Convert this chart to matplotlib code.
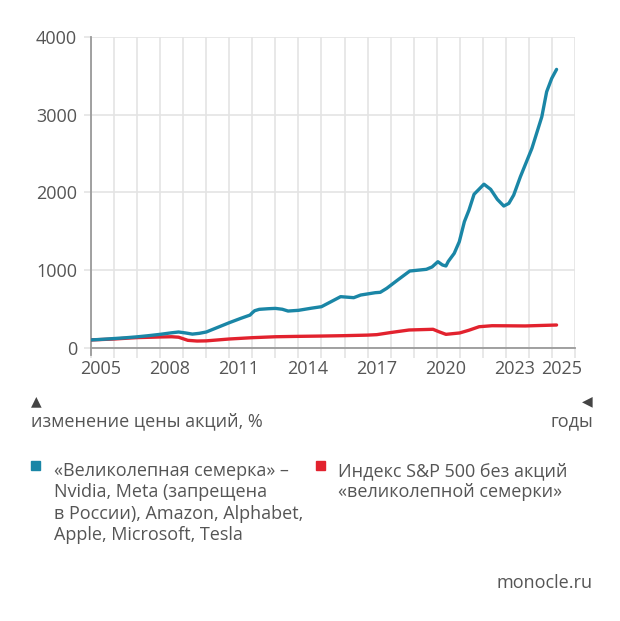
import matplotlib.pyplot as plt
from matplotlib.ticker import FixedLocator

plt.rcParams['font.family'] = ['Open Sans', 'DejaVu Sans']

# "Великолепная семерка" (x in years)
mag7_years = [2005.0, 2005.5, 2006.0, 2006.5, 2007.0, 2007.5, 2008.0, 2008.5, 2008.8,
              2009.1, 2009.4, 2009.7, 2010.0, 2010.5, 2011.0, 2011.5, 2011.9, 2012.0,
              2012.1, 2012.3, 2012.7, 2013.0, 2013.3, 2013.55, 2014.0, 2014.55, 2015.0,
              2015.4, 2015.83, 2016.4, 2016.7, 2017.33, 2017.55, 2017.83, 2018.3, 2018.83,
              2019.55, 2019.8, 2020.05, 2020.25, 2020.4, 2020.5, 2020.76, 2020.98, 2021.2,
              2021.4, 2021.62, 2022.05, 2022.34, 2022.63, 2022.91, 2023.13, 2023.34,
              2023.63, 2024.13, 2024.56, 2024.77, 2024.99, 2025.2]
mag7_values = [100, 108, 118, 128, 140, 155, 172, 192, 202,
               190, 175, 185, 202, 262, 322, 378, 420, 450,
               476, 494, 502, 506, 495, 472, 481, 508, 528,
               590, 657, 644, 678, 708, 713, 764, 870, 987,
               1009, 1040, 1107, 1065, 1052, 1110, 1215, 1365, 1622,
               1772, 1975, 2105, 2039, 1910, 1824, 1858, 1965,
               2201, 2566, 2973, 3295, 3467, 3583]

# S&P 500 без акций семерки
sp_years = [2005.0, 2006.0, 2007.0, 2008.0, 2008.5, 2008.8, 2009.2, 2009.6, 2010.0,
            2010.5, 2011.0, 2012.0, 2013.0, 2014.0, 2015.0, 2016.0, 2017.0, 2017.4,
            2018.0, 2018.8, 2019.84, 2020.1, 2020.4, 2021.0, 2021.4, 2021.84, 2022.4,
            2023.0, 2023.84, 2024.5, 2025.2]
sp_values = [100, 112, 130, 138, 141, 135, 95, 86, 88,
             100, 112, 129, 141, 146, 150, 155, 162, 168,
             195, 228, 237, 205, 172, 190, 225, 270, 283,
             282, 280, 286, 292]

label_years = [2005, 2008, 2011, 2014, 2017, 2020, 2023, 2025]
y_ticks = [0, 1000, 2000, 3000, 4000]

blue = '#1a86a6'
red = '#e2222e'
text_gray = '#555555'
grid_gray = '#e4e4e4'
axis_gray = '#9a9a9a'
fs = 13

fig = plt.figure(figsize=(6.2, 6.21), dpi=100)
ax = fig.add_axes([91 / 620, 1 - 347.7 / 621, (575 - 91) / 620, (347.7 - 37) / 621])

ax.plot(sp_years, sp_values, color=red, lw=2.4, solid_capstyle='round', zorder=3)
ax.plot(mag7_years, mag7_values, color=blue, lw=2.4, solid_capstyle='round', zorder=4)

ax.set_xlim(2005, 2026)
ax.set_ylim(0, 4000)

# gridlines every year, labels slightly to the right of the lines
ax.xaxis.set_minor_locator(FixedLocator(range(2005, 2027)))
ax.set_xticks([y + 0.4 for y in label_years])
ax.set_xticklabels([str(y) for y in label_years])
ax.tick_params(axis='x', which='major', length=0, pad=9, labelsize=fs, labelcolor=text_gray)
ax.tick_params(axis='x', which='minor', length=7, width=1.2, color=grid_gray)
ax.set_yticks(y_ticks)
ax.tick_params(axis='y', length=5, width=1.2, color=grid_gray, pad=5, labelsize=fs,
               labelcolor=text_gray)

ax.grid(True, axis='x', which='minor', color=grid_gray, lw=1.2)
ax.grid(True, axis='y', which='major', color=grid_gray, lw=1.2)

for s in ['top', 'right']:
    ax.spines[s].set_visible(False)
ax.spines['left'].set_color(axis_gray)
ax.spines['bottom'].set_color(axis_gray)
ax.spines['left'].set_linewidth(1.3)
ax.spines['bottom'].set_linewidth(1.3)
ax.spines['left'].set_bounds(-100, 4000)
ax.set_axisbelow(True)


def px(x, y):
    return x / 620, 1 - y / 621


fig.text(*px(31, 401), '▲', fontsize=10, color='#444444', va='center', ha='left',
         family='DejaVu Sans')
fig.text(*px(31, 421), 'изменение цены акций, %', fontsize=fs, color=text_gray,
         va='center', ha='left')
fig.text(*px(593, 401), '◀', fontsize=10, color='#444444', va='center', ha='right',
         family='DejaVu Sans')
fig.text(*px(593, 421), 'годы', fontsize=fs, color=text_gray, va='center', ha='right')

# legend
fig.patches.append(plt.Rectangle(px(31, 470), 9 / 620, 9 / 621, color=blue,
                                 transform=fig.transFigure, figure=fig))
fig.text(*px(54, 462), '«Великолепная семерка» –\nNvidia, Meta (запрещена\n'
         'в России), Amazon, Alphabet,\nApple, Microsoft, Tesla',
         fontsize=fs, color=text_gray, va='top', ha='left', linespacing=1.24)
fig.patches.append(plt.Rectangle(px(316, 470), 9 / 620, 9 / 621, color=red,
                                 transform=fig.transFigure, figure=fig))
fig.text(*px(338, 462), 'Индекс S&P 500 без акций\n«великолепной семерки»',
         fontsize=fs, color=text_gray, va='top', ha='left', linespacing=1.24)

fig.text(*px(593, 583), 'monocle.ru', fontsize=fs, color=text_gray, va='center', ha='right')

fig.savefig('out.png', dpi=100)
